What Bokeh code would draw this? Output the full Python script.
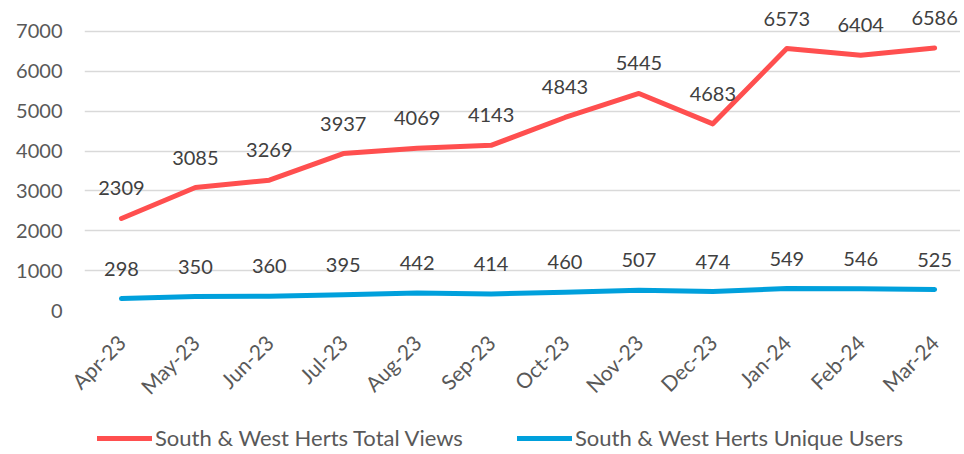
from bokeh.plotting import figure
from bokeh.layouts import column
from bokeh.models import FixedTicker, Legend, LegendItem, Range1d, ColumnDataSource, LabelSet
from bokeh.core.properties import value
from bokeh.embed import file_html
from bokeh.resources import INLINE

months = ["Apr-23", "May-23", "Jun-23", "Jul-23", "Aug-23", "Sep-23",
          "Oct-23", "Nov-23", "Dec-23", "Jan-24", "Feb-24", "Mar-24"]
total_views = [2309, 3085, 3269, 3937, 4069, 4143, 4843, 5445, 4683, 6573, 6404, 6586]
unique_users = [298, 350, 360, 395, 442, 414, 460, 507, 474, 549, 546, 525]
y_ticks = [0, 1000, 2000, 3000, 4000, 5000, 6000, 7000]
series_names = ["South & West Herts Total Views", "South & West Herts Unique Users"]

RED = "#FF4F4F"
BLUE = "#00A0DC"
FONT = "Lato"

xs = list(range(len(months)))

p = figure(width=960, height=410, output_backend="svg", toolbar_location=None,
           x_range=Range1d(-0.5, 11.35), y_range=Range1d(0, 7577),
           min_border_left=84, min_border_right=0, min_border_top=8, min_border_bottom=100)
p.outline_line_color = None
p.background_fill_color = "white"

p.xgrid.grid_line_color = None
p.ygrid.grid_line_color = "#D9D9D9"
p.ygrid.grid_line_width = 1.6
p.ygrid.ticker = FixedTicker(ticks=y_ticks)

p.yaxis.ticker = FixedTicker(ticks=y_ticks)
p.yaxis.axis_line_color = None
p.yaxis.major_tick_line_color = None
p.yaxis.minor_tick_line_color = None
p.yaxis.major_label_text_font = FONT
p.yaxis.major_label_text_font_size = "20px"
p.yaxis.major_label_text_color = "#595959"
p.yaxis.major_label_standoff = 16

p.xaxis.ticker = FixedTicker(ticks=xs)
p.xaxis.major_label_overrides = {i: m for i, m in enumerate(months)}
p.xaxis.major_label_orientation = 0.785398
p.xaxis.axis_line_color = None
p.xaxis.major_tick_line_color = None
p.xaxis.minor_tick_line_color = None
p.xaxis.major_label_text_font = FONT
p.xaxis.major_label_text_font_size = "21px"
p.xaxis.major_label_text_color = "#595959"
p.xaxis.major_label_standoff = 22

src = ColumnDataSource(dict(x=xs, tv=total_views, uu=unique_users,
                            tvl=[str(v) for v in total_views],
                            uul=[str(v) for v in unique_users]))

p.line("x", "tv", source=src, line_color=RED, line_width=5, line_join="round", line_cap="round")
p.line("x", "uu", source=src, line_color=BLUE, line_width=5, line_join="round", line_cap="round")

for col, lab in (("tv", "tvl"), ("uu", "uul")):
    ls = LabelSet(x="x", y=col, text=lab, source=src, y_offset=30,
                  text_align="center", text_baseline="middle",
                  text_font=value(FONT), text_font_size="20px", text_color="#404040")
    p.add_layout(ls)

# legend strip below the chart (its frame is aligned with the chart's frame)
lg = figure(width=960, height=44, output_backend="svg", toolbar_location=None,
            x_axis_type=None, y_axis_type=None, x_range=Range1d(0, 1), y_range=Range1d(0, 1),
            min_border_left=84, min_border_right=0, min_border_top=0, min_border_bottom=0)
lg.outline_line_color = None
lg.xgrid.visible = False
lg.ygrid.visible = False
d1 = lg.line(x=[5, 6], y=[5, 5], line_color=RED, line_width=5, line_cap="round")
d2 = lg.line(x=[5, 6], y=[5, 5], line_color=BLUE, line_width=5, line_cap="round")
legend = Legend(items=[LegendItem(label=series_names[0], renderers=[d1]),
                       LegendItem(label=series_names[1], renderers=[d2])],
                orientation="horizontal", location=(13, 3),
                label_text_font=FONT, label_text_font_size="22px", label_text_color="#595959",
                glyph_width=55, label_standoff=3, spacing=54, padding=0, margin=0,
                border_line_color=None, background_fill_alpha=0)
lg.add_layout(legend, "center")

layout = column(p, lg)
open("out.html", "w").write(file_html(layout, INLINE))
